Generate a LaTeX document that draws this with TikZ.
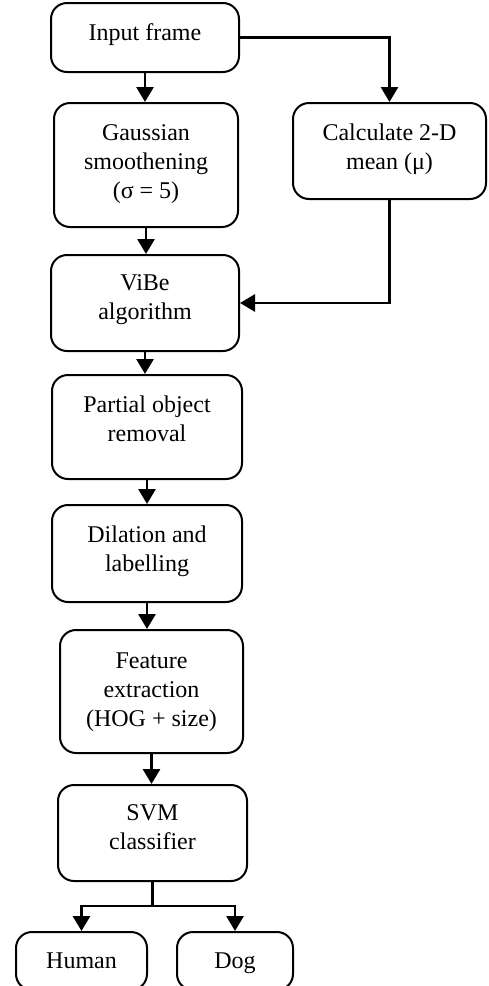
\documentclass[tikz,border=0pt]{standalone}
\usepackage{fontspec}
\setmainfont{Liberation Serif}
\usetikzlibrary{arrows.meta}
\begin{document}
\begin{tikzpicture}[x=1pt,y=-1pt,
  box/.style={draw, line width=2pt, rounded corners=16pt, inner sep=0pt},
  txt/.style={align=center, inner sep=0pt, font=\fontsize{24}{29}\selectfont},
  flow/.style={line width=2.8pt, -{Triangle[length=15pt,width=17pt]}},
  plain/.style={line width=2.8pt}]
\useasboundingbox (0,0) rectangle (488,986);
\clip (0,0) rectangle (488,986);

% processing steps
\node[box, minimum width=188pt, minimum height=69pt,
  label={[txt,yshift=2.5pt]center:Input frame}] (input) at (145,37.5) {};
\node[box, minimum width=184pt, minimum height=124pt,
  label={[txt,yshift=1pt]center:{Gaussian\\smoothening\\(σ = 5)}}] (gauss) at (146,165) {};
\node[box, minimum width=193pt, minimum height=96pt,
  label={[txt,yshift=2pt]center:{Calculate 2-D\\mean (μ)}}] (calc) at (389.5,151) {};
\node[box, minimum width=188pt, minimum height=96pt,
  label={[txt,yshift=3.5pt]center:{ViBe\\algorithm}}] (vibe) at (145,303) {};
\node[box, minimum width=190pt, minimum height=104pt,
  label={[txt,yshift=8pt]center:{Partial object\\removal}}] (partial) at (147,427) {};
\node[box, minimum width=190pt, minimum height=97pt,
  label={[txt,yshift=2pt]center:{Dilation and\\labelling}}] (dilation) at (147,553.5) {};
\node[box, minimum width=183pt, minimum height=123pt,
  label={[txt,yshift=-0.5pt]center:{Feature\\extraction\\(HOG + size)}}] (feature) at (151.5,691.5) {};
\node[box, minimum width=189pt, minimum height=96pt,
  label={[txt,yshift=6pt]center:{SVM\\classifier}}] (svm) at (152.5,833) {};

% class outputs
\node[box, minimum width=131pt, minimum height=58pt,
  label={[txt,text depth=6pt,yshift=-3pt]center:Human}] (human) at (81.5,961) {};
\node[box, minimum width=116pt, minimum height=58pt,
  label={[txt,text depth=6pt,yshift=-3pt]center:Dog}] (dog) at (235,961) {};

% connectors
\draw[flow] (input.south) -- (input.south |- gauss.north);
\draw[flow] (input.east) -| (calc.north);
\draw[flow] (gauss.south) -- (gauss.south |- vibe.north);
\draw[flow] (calc.south) |- (vibe.east);
\draw[flow] (vibe.south) -- (vibe.south |- partial.north);
\draw[flow] (partial.south) -- (partial.south |- dilation.north);
\draw[flow] (dilation.south) -- (dilation.south |- feature.north);
\draw[flow] (feature.south) -- (feature.south |- svm.north);

\coordinate (split) at (svm.south |- 0,906);
\draw[plain] (svm.south) -- (split);
\draw[flow] (split) -| (human.north);
\draw[flow] (split) -| (dog.north);
\end{tikzpicture}
\end{document}
